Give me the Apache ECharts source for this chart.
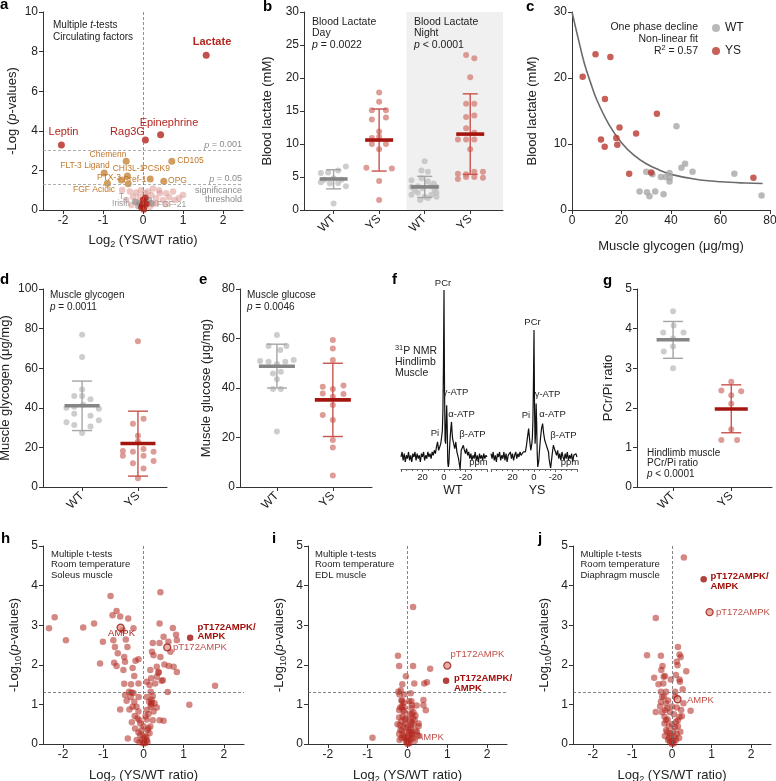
<!DOCTYPE html>
<html><head><meta charset="utf-8">
<script src="https://cdn.jsdelivr.net/npm/echarts@6/dist/echarts.min.js"></script>
<style>html,body{margin:0;padding:0;background:#fff}#c{width:776px;height:781px}</style>
</head><body><div id="c"></div><script>
// ================= DATA =================
// Panel a: volcano of circulating factors
const aRedNames = ['Lactate','Epinephrine','Rag3G','Leptin'];
const aRedX = [1.58, 0.44, 0.06, -2.04];
const aRedY = [7.81, 3.80, 3.54, 3.28];
const aOrangeNames = ['Chemerin','CD105','FLT-3 Ligand','CHI3L-1','PTX-3','FGF Acidic','Pref-1','PCSK9','OPG'];
const aOrangeX = [-0.42, 0.72, -0.97, -0.39, -0.54, -0.89, -0.37, 0.18, 0.52];
const aOrangeY = [2.46, 2.46, 1.87, 1.72, 1.52, 1.35, 1.33, 1.57, 1.45];
const aFaint = [[-0.52,1.01],[-0.33,0.93],[-0.17,0.88],[-0.25,0.67],[-0.08,0.67],[0.125,0.93],[0.25,1.09],[0.42,0.84],[0.58,0.84],[0.75,0.93],[1.0,0.76],[0.21,0.76],[0.33,0.59],[0.5,0.5],[0.79,0.5],[-0.42,0.5],[-0.17,0.42],[0.125,0.34],[0.25,0.3],[0.17,0.17],[0.33,0.34],[0.58,0.3],[-0.29,0.25],[0.4,1.0],[0.65,0.65],[-0.05,1.0],[0.05,0.85],[0.9,0.6]];
const aGray = [[-0.2,0.42],[-0.08,0.34],[0.21,0.34],[0.15,0.5],[-0.12,0.2],[0.05,0.22]];
const aDark = [[0.06,0.62],[0.0,0.5],[-0.04,0.13],[0.02,0.03],[0.08,0.3],[-0.02,0.25]];

// Panel b: blood lactate (groups WT day, YS day, WT night, YS night)
const bCats = ['WT','YS','WT','YS'];
const bWTdY = [5.6,5.7,6.0,6.6,4.6,4.8,4.6,4.2,4.0,4.1,3.6,1.0];
const bWTdDX = [-0.28,-0.12,0.1,0.27,-0.2,0.0,0.17,-0.28,-0.08,0.1,0.27,0.0];
const bYSdY = [17.8,16.4,15.1,15.1,13.7,14.0,11.9,10.9,11.1,10.0,10.0,9.2,6.4,6.3,4.4,1.5];
const bYSdDX = [0,0,-0.16,0.15,-0.16,0.15,0,-0.16,0,0.15,-0.16,0,-0.28,0.28,0,0];
const bWTnY = [7.4,6.0,5.8,4.5,4.8,4.3,3.5,3.6,3.6,3.5,2.3,2.6,2.0,2.3,2.6,1.5,1.8,2.0,3.0,3.3,3.0,4.0];
const bWTnDX = [0,-0.07,0.07,-0.29,-0.07,0.07,-0.29,-0.15,0.15,0.26,-0.29,-0.15,0,0.15,0.26,-0.1,0.07,0.26,-0.22,-0.04,0.22,0.2];
const bYSnY = [23.5,23.0,20.1,16.1,16.1,14.1,14.3,12.4,11.7,10.7,10.7,10.7,9.2,5.5,5.4,5.8,5.8,4.7,5.0,5.0,4.9];
const bYSnDX = [-0.09,0.09,0,-0.09,0.09,-0.09,0.09,-0.09,0.09,-0.27,-0.09,0.09,0,-0.27,-0.09,0.09,0.28,-0.27,-0.09,0.09,0.28];
const bMean = [4.7,10.6,3.5,11.5];
const bLow = [3.2,5.9,1.9,5.4];
const bHigh = [6.1,15.3,5.1,17.6];

// Panel c: lactate vs glycogen
const cYSx = [4.3,9.5,15.5,13.3,19.2,11.7,13.2,17.9,18.3,25.9,34.3,23.1,32.0,73.3];
const cYSy = [20.2,23.6,23.2,16.8,12.5,10.7,9.6,10.9,9.9,11.6,14.6,5.5,5.7,4.9];
const cWTx = [30.0,32.5,35.9,37.8,39.4,39.5,39.4,27.3,30.3,31.3,33.6,37.0,42.2,44.2,45.7,48.7,65.6,76.6];
const cWTy = [5.8,5.4,5.0,5.0,5.6,4.9,4.3,2.8,2.7,2.1,2.8,2.4,12.7,6.4,7.0,5.8,5.5,2.2];
const cFitX = [0,2.5,5,7.5,10,15,20,25,30,35,40,50,60,70,77];
const cFitY = [30,26.0,22.2,19.3,16.7,12.9,10.2,8.3,7.0,6.1,5.4,4.65,4.27,4.08,4.02];

// Panel d: muscle glycogen
const dCats = ['WT','YS'];
const dWTY = [76.9,65.7,49.2,46.0,46.0,44.3,40.0,40.5,41.5,39.5,37.0,36.0,33.7,32.7,31.3,30.5,27.3];
const dWTDX = [0,0,0,-0.14,0,0.15,-0.28,-0.14,0.02,0.3,-0.14,0.15,0.3,-0.28,-0.14,0.15,0];
const dYSY = [73.6,34.5,32.0,25.9,23.0,18.2,17.8,19.2,17.8,15.8,12.0,15.8,13.1,9.3,4.4];
const dYSDX = [0,0.1,-0.09,0,0,-0.27,-0.09,0.1,0.28,-0.27,-0.09,0.1,0.28,0.1,0];
const dMean = [41,22], dLow = [28.5,5.5], dHigh = [53.5,38.3];

// Panel e: muscle glucose
const eCats = ['WT','YS'];
const eWTY = [61.4,57.0,57.0,55.4,50.9,50.6,51.3,50.6,49.7,45.9,46.6,43.5,39.6,39.6,22.4];
const eWTDX = [0,-0.15,0.17,0.06,-0.3,-0.15,0.3,0.15,0,-0.07,0.07,0,-0.07,0.07,0];
const eYSY = [59.4,56.0,51.3,40.5,39.6,41.0,37.8,37.6,36.5,33.1,29.1,27.1,19.0,16.0,4.6];
const eYSDX = [0,0,0,-0.18,0,0.19,-0.18,0.19,0,0,-0.18,0,0,0,0];
const eMean = [48.8,35.2], eLow = [40.0,20.4], eHigh = [57.7,50.0];

// Panel f: 31P NMR spectra (ppm, intensity)
const fPpm = [40,39,38,37,36,35,34,33,32,31,30,29,28,27,26,25,24,23,22,21,20,19,18,17,16,15,14,13,12,11,10,9,8,7,6,5,4,3,2,
  1.5,1,0.5,0,-0.5,-1,-1.5,-2,-2.5,-3,-3.5,-4,-4.5,-5,-5.5,-6,-6.5,-7,-7.5,-8,
  -9,-10,-11,-12,-13,-13.5,-14,-14.5,-15,-15.5,-16,
  -17,-18,-19,-20,-21,-22,-23,-24,-25,-26,-27,-28,-29,-30,-31,-32,-33,-34,-35,-36,-37,-38,-39,-40];
const fWTint = [0,3,-2,2,-3,1,-1,3,-2,1,-3,2,0,3,-2,2,-1,1,-3,2,0,3,-2,1,-1,3,0,2,-1,3,1,4,2,6,9,4,6,8,13,
  16,28,55,100,40,10,8,20,31,18,-3,-6,-4,3,9,14,18,21,15,11,
  8,5,9,3,4,-1,-3,-5,-7.5,-2,4,
  3,7,4,2,5,1,3,-1,2,-2,1,-1,3,-2,1,-3,2,-1,1,-2,2,-1,1,0];
const fYSint = [2,-1,3,-2,1,-3,2,0,3,-2,1,-1,3,-2,2,-3,1,0,3,-1,2,-2,1,3,-1,2,0,3,1,2,3,4,3,7,12,17,10,4,8,
  12,22,45,76,30,8,14,32,20,2,-6,-5,-2,3,7,11,14,17,18,20,
  14,10,8,6,7,3,-1,-3,-5,-6.5,-7.5,
  2,7,5,3,1,4,-1,2,-2,3,0,-2,2,-1,3,-2,1,-1,2,-3,1,0,2,0];

// Panel g: PCr/Pi ratio
const gCats = ['WT','YS'];
const gWTY = [4.44,3.90,4.08,3.90,3.75,3.55,3.42,3.0];
const gWTDX = [0,-0.17,0.01,0.18,0,0,-0.16,0];
const gYSY = [2.66,2.44,2.32,2.42,2.10,1.46,1.19,1.19];
const gYSDX = [0,-0.17,0,0.17,0,0,-0.17,0.1];
const gMean = [3.72,1.97], gLow = [3.25,1.37], gHigh = [4.18,2.58];

// Panels h, i, j: phosphoproteomics volcanos
const hPts = [[-2.35,2.92],[-2.21,3.20],[-1.93,2.62],[-1.50,2.94],[-1.23,3.04],[-1.08,2.03],[-1.01,2.58],[-0.82,3.74],[-0.77,3.25],[-0.67,3.36],[-0.75,2.62],[-0.71,2.45],[-0.73,2.05],[-0.67,1.97],[-0.64,2.29],[-0.58,3.22],[-0.38,3.17],[-0.52,2.87],[-0.44,2.64],[-0.40,2.45],[-0.48,2.20],[-0.46,2.08],[-0.50,1.87],[-0.25,2.92],[-0.27,1.92],[-0.31,1.51],[-0.48,1.52],[-0.23,1.72],[-0.125,2.14],[-0.58,0.87],[-0.39,0.14],[-0.125,1.53],[-0.36,1.32],[-0.25,1.29],[-0.46,1.24],[-0.32,1.19],[-0.42,1.09],[-0.23,1.07],[-0.27,0.94],[-0.175,0.94],[-0.35,0.87],[-0.12,1.19],[-0.125,0.82],[-0.22,0.71],[-0.15,0.65],[-0.29,0.55],[-0.08,0.52],[-0.21,0.39],[-0.125,0.29],[-0.08,0.23],[-0.04,0.10],[-0.02,0.02],[0.02,0.04],[-0.17,0.10],
  [0.42,3.83],[0.40,3.04],[0.73,2.93],[0.50,2.71],[0.81,2.76],[0.83,2.62],[0.62,2.58],[0.40,2.55],[0.23,2.55],[0.67,2.33],[0.21,2.33],[0.42,2.20],[0.25,2.24],[0.52,2.01],[0.33,1.95],[0.63,1.97],[0.75,1.95],[0.83,1.82],[0.375,1.82],[0.17,1.87],[0.48,1.61],[0.19,1.66],[0.08,1.57],[0.15,1.49],[0.29,1.53],[0.33,1.70],[0.6,1.31],[0.18,1.32],[0.23,1.21],[0.08,1.19],[0.14,1.07],[0.275,1.03],[0.18,0.94],[0.33,0.92],[0.08,0.86],[0.25,0.82],[0.125,0.76],[0.23,0.60],[0.40,0.60],[0.5,0.59],[0.08,0.62],[0.17,0.44],[0.1,0.35],[0.15,0.27],[0.07,0.18],[0.08,0.10],[0.04,0.02],[1.78,1.47],[1.14,0.99],
  [0.375,1.8],[0.2,1.05],[0.19,1.0],[0.05,0.7],[0.0,0.45],[0.12,0.4],[-0.05,0.35],[0.03,0.15],[-0.1,0.6],[0.2,1.12],[-0.3,1.3],[-0.2,2.1],[0.45,1.6],[-0.1,0.05],[0.1,0.05],[0.0,0.2]];
const hDark = [[1.16,2.68]];
const hOpen = [[-0.57,2.94],[0.59,2.44]];
const iPts = [[0.14,3.46],[-0.24,2.23],[-0.21,1.97],[0.14,1.97],[0.57,1.90],[-0.04,1.71],[0.17,1.53],[0.42,1.53],[0.49,1.56],[-0.13,1.51],[-0.17,1.36],[-0.23,1.32],[-0.08,1.25],[0.08,1.28],[-0.14,1.09],[-0.1,1.04],[0.1,1.08],[-0.14,0.94],[0.11,0.98],[0.23,0.97],[0.40,1.11],[0.40,0.98],[0.46,0.85],[-0.21,0.86],[-0.1,0.82],[0.11,0.76],[-0.21,0.67],[-0.06,0.61],[0.18,0.62],[0.28,0.52],[-0.19,0.48],[0.09,0.48],[-0.14,0.35],[0.04,0.35],[0.24,0.31],[-0.21,0.25],[0.11,0.23],[-0.08,0.18],[0.02,0.14],[-0.02,0.06],[0.05,0.02],[-0.88,0.16],
  [-0.2,1.25],[-0.15,1.1],[-0.18,0.92],[-0.08,0.85],[-0.12,0.7],[-0.05,0.65],[0.05,0.6],[-0.15,0.58],[0.1,0.55],[0.15,0.5],[-0.1,0.45],[0.0,0.42],[0.08,0.4],[-0.18,0.35],[0.2,0.35],[-0.05,0.3],[0.05,0.28],[0.12,0.25],[-0.12,0.22],[0.02,0.2],[-0.06,0.15],[0.08,0.12],[0.0,0.1],[-0.03,0.05],[0.03,0.03],[0.0,0.0],[0.15,0.15],[0.25,0.22],[0.3,0.2],[-0.2,0.1],[0.18,0.08],[0.1,0.9],[0.15,0.8],[0.2,0.72],[0.28,0.45],[-0.25,0.5],[0.04,1.08],[-0.1,0.95],[0.05,0.75],[-0.05,0.5],[0.1,0.3],[-0.15,0.15],[0.13,0.65]];
const iDark = [[0.97,1.60]];
const iOpen = [[1.0,1.98]];
const jPts = [[0.30,4.71],[-0.41,3.18],[-0.63,2.24],[-0.28,2.23],[0.15,2.45],[0.19,2.26],[0.22,2.20],[0.12,2.08],[-0.24,1.97],[0.14,1.99],[-0.27,1.87],[0.36,1.84],[-0.45,1.67],[-0.21,1.70],[-0.18,1.72],[0.19,1.63],[0.20,1.57],[-0.34,1.51],[-0.22,1.53],[-0.03,1.63],[0.10,1.74],[-0.28,1.32],[-0.15,1.32],[0.08,1.32],[0.27,1.38],[-0.25,1.19],[-0.28,1.07],[-0.15,1.03],[-0.41,0.81],[-0.17,0.86],[0.29,1.03],[0.23,0.86],[0.47,0.84],[0.19,0.69],[-0.19,0.69],[-0.11,0.62],[0.1,0.56],[-0.19,0.52],[0.21,0.31],[-0.15,0.35],[-0.05,0.27],[0.06,0.18],[-0.1,0.10],[-0.01,0.04],[0.1,0.10],
  [-0.2,1.2],[-0.1,1.1],[0.0,0.95],[-0.12,0.9],[0.12,0.92],[-0.05,0.8],[0.05,0.75],[-0.15,0.6],[0.15,0.6],[0.0,0.5],[-0.08,0.45],[0.08,0.42],[0.15,0.45],[-0.12,0.3],[0.03,0.32],[0.12,0.25],[-0.03,0.2],[-0.08,0.15],[0.03,0.08],[0.0,0.0],[0.05,0.02],[-0.05,0.05],[0.18,0.15],[-0.18,0.2],[0.25,0.7],[-0.25,0.8],[0.08,1.2],[-0.3,0.95]];
const jDark = [[0.80,4.16]];
const jOpen = [[0.95,3.33],[0.14,1.13]];

const volTicks = [-2,-1,0,1,2];

// ================= STYLE / BUILD =================
const FONT = '"Liberation Sans", Arial, Helvetica, sans-serif';
const INK = '#222';
const DOT_GRAY = '#c0c0c0', DOT_RED = '#d4837c';
const BAR_GRAY = '#858585', BAR_RED = '#a5150f';
const ERR_GRAY = '#a5a5a5', ERR_RED = '#c8534c';
const VRED = '#b0261e';

function merge(a, b) {
  const o = Object.assign({}, a);
  for (const k in b) {
    const bv = b[k], av = a[k];
    if (bv && typeof bv === 'object' && !Array.isArray(bv) && av && typeof av === 'object' && !Array.isArray(av)) o[k] = merge(av, bv);
    else o[k] = bv;
  }
  return o;
}
function nameRich(sz) {
  return {
    s: {fontSize: sz * 0.7, fontFamily: FONT, color: INK, padding: [sz * 0.7, 0, 0, 0]},
    i: {fontSize: sz, fontFamily: FONT, color: INK, fontStyle: 'italic'},
    n: {fontSize: sz, fontFamily: FONT, color: INK}
  };
}
const AX = {
  type: 'value',
  axisLine: {show: true, onZero: false, lineStyle: {color: '#333', width: 1}},
  axisTick: {show: true, length: 4, lineStyle: {color: '#333'}},
  axisLabel: {color: INK, fontSize: 12, fontFamily: FONT, margin: 5},
  splitLine: {show: false},
  nameLocation: 'middle',
  nameTextStyle: {color: INK, fontSize: 13, fontFamily: FONT, rich: nameRich(13)}
};
function ax(gi, o) { return merge(merge(AX, {gridIndex: gi}), o); }
function catX(gi, min, max, cats) {
  const vals = cats.map((c, i) => i + 1);
  return ax(gi, {min, max,
    axisTick: {customValues: vals},
    axisLabel: {customValues: vals, rotate: 45, margin: 7, formatter: v => cats[Math.round(v) - 1] || ''}});
}
function volX(gi, nm) {
  return ax(gi, {min: -2.5, max: 2.5, axisTick: {customValues: volTicks}, axisLabel: {customValues: volTicks}, name: nm, nameGap: 22});
}
function nmrX(gi) {
  return ax(gi, {min: -40, max: 40, inverse: true, interval: 20,
    axisLine: {lineStyle: {color: '#666'}}, axisTick: {length: 3, lineStyle: {color: '#666'}},
    minorTick: {show: true, splitNumber: 4, length: 2, lineStyle: {color: '#666'}},
    axisLabel: {fontSize: 9.5, margin: 3, formatter: v => Math.abs(v) === 40 ? '' : String(v)}});
}
const G = [
  {left: 43, top: 12, width: 200, height: 198},   // a
  {left: 304, top: 12, width: 199, height: 198},  // b
  {left: 572, top: 12, width: 198, height: 198},  // c
  {left: 43, top: 289, width: 124, height: 198},  // d
  {left: 240, top: 289, width: 132, height: 198}, // e
  {left: 401, top: 290, width: 86, height: 179},  // f WT
  {left: 491, top: 290, width: 86, height: 179},  // f YS
  {left: 637, top: 289, width: 135, height: 198}, // g
  {left: 43, top: 546, width: 201, height: 198},  // h
  {left: 308, top: 546, width: 199, height: 198}, // i
  {left: 573, top: 546, width: 198, height: 198}  // j
].map(g => Object.assign({containLabel: false, outerBoundsMode: 'none'}, g));

const LOGX = 'Log{s|2} (YS/WT ratio)';
const LOG10Y = '-Log{s|10}({i|p}-values)';
const xAxes = [
  ax(0, {min: -2.5, max: 2.5, axisTick: {customValues: volTicks}, axisLabel: {customValues: volTicks}, name: LOGX, nameGap: 21}),
  catX(1, 0.35, 4.72, bCats),
  ax(2, {min: 0, max: 80, interval: 20, name: 'Muscle glycogen (μg/mg)', nameGap: 30}),
  catX(3, 0.30, 2.52, dCats),
  catX(4, 0.34, 2.70, eCats),
  nmrX(5), nmrX(6),
  catX(7, 0.38, 2.70, gCats),
  volX(8, LOGX), volX(9, LOGX), volX(10, LOGX)
];
const yAxes = [
  ax(0, {min: 0, max: 10, interval: 2, name: '-Log ({i|p}-values)', nameGap: 24}),
  ax(1, {min: 0, max: 30, interval: 5, name: 'Blood lactate (mM)', nameGap: 30}),
  ax(2, {min: 0, max: 30, interval: 10, name: 'Blood lactate (mM)', nameGap: 33}),
  ax(3, {min: 0, max: 100, interval: 20, name: 'Muscle glycogen (μg/mg)', nameGap: 31}),
  ax(4, {min: 0, max: 80, interval: 20, name: 'Muscle glucose (μg/mg)', nameGap: 27}),
  ax(5, {min: -7.2, max: 100, show: false}),
  ax(6, {min: -7.2, max: 100, show: false}),
  ax(7, {min: 0, max: 5, interval: 1, name: 'PCr/Pi ratio', nameGap: 22}),
  ax(8, {min: 0, max: 5, interval: 1, name: LOG10Y, nameGap: 20}),
  ax(9, {min: 0, max: 5, interval: 1, name: LOG10Y, nameGap: 20}),
  ax(10, {min: 0, max: 5, interval: 1, name: LOG10Y, nameGap: 20})
];

function sc(gi, data, color, size, extra) {
  return merge({type: 'scatter', xAxisIndex: gi, yAxisIndex: gi, data, symbolSize: size, silent: true,
    itemStyle: {color: color}, z: 3}, extra || {});
}
function grp(center, dx, ys) { return ys.map((y, k) => [center + dx[k], y]); }
function meanSD(gi, means, lows, highs, barHalf, capHalf) {
  const barC = [BAR_GRAY, BAR_RED], errC = [ERR_GRAY, ERR_RED];
  return {type: 'custom', xAxisIndex: gi, yAxisIndex: gi, z: 5, silent: true, clip: false,
    data: means.map((m, k) => [k + 1, m, lows[k], highs[k]]),
    renderItem: (p, api) => {
      const c = p.dataIndex % 2, x = api.value(0);
      const pm = api.coord([x, api.value(1)]), pl = api.coord([x, api.value(2)]), ph = api.coord([x, api.value(3)]);
      const ec = errC[c], bc = barC[c];
      return {type: 'group', children: [
        {type: 'line', shape: {x1: pl[0], y1: pl[1], x2: ph[0], y2: ph[1]}, style: {stroke: ec, lineWidth: 1.4}},
        {type: 'line', shape: {x1: pl[0] - capHalf, y1: pl[1], x2: pl[0] + capHalf, y2: pl[1]}, style: {stroke: ec, lineWidth: 1.4}},
        {type: 'line', shape: {x1: ph[0] - capHalf, y1: ph[1], x2: ph[0] + capHalf, y2: ph[1]}, style: {stroke: ec, lineWidth: 1.4}},
        {type: 'line', shape: {x1: pm[0] - barHalf, y1: pm[1], x2: pm[0] + barHalf, y2: pm[1]}, style: {stroke: bc, lineWidth: 3.6}}
      ]};
    }};
}
function dashLines(vals, color) {
  return {silent: true, symbol: 'none', label: {show: false}, animation: false,
    lineStyle: {type: [3, 2], color: color, width: 0.8}, data: vals};
}
function volcano(gi, pts, dark, open) {
  return [
    sc(gi, pts, VRED, 6.5, {itemStyle: {opacity: 0.55}, markLine: dashLines([{yAxis: 1.3}, {xAxis: 0}], '#666')}),
    sc(gi, open, 'rgba(214,120,112,0.75)', 7, {itemStyle: {borderColor: '#9a1a12', borderWidth: 1.3}, z: 4}),
    sc(gi, dark, '#a0100b', 6.5, {z: 4})
  ];
}

const series = [
  // a
  sc(0, aFaint, '#d9908a', 6.5, {itemStyle: {opacity: 0.5}, markLine: dashLines([{yAxis: 3}, {yAxis: 1.3}], '#9a9a9a')}),
  sc(0, aGray, '#8a8a8a', 6.5, {itemStyle: {opacity: 0.6}, markLine: dashLines([{xAxis: 0}], '#777')}),
  sc(0, aDark, '#b01c12', 6.5, {itemStyle: {opacity: 0.8}}),
  sc(0, aOrangeX.map((x, k) => [x, aOrangeY[k]]), '#c6843a', 7, {z: 4}),
  sc(0, aRedX.map((x, k) => [x, aRedY[k]]), '#b3261e', 7, {z: 4}),
  // b
  {type: 'line', xAxisIndex: 1, yAxisIndex: 1, data: [[2.6, 0]], showSymbol: false, silent: true, z: 0,
    markArea: {silent: true, itemStyle: {color: '#f0f0f0'}, data: [[{xAxis: 2.6, yAxis: 0}, {xAxis: 4.72, yAxis: 30}]]}},
  sc(1, grp(1, bWTdDX, bWTdY), DOT_GRAY, 6),
  sc(1, grp(2, bYSdDX, bYSdY), DOT_RED, 6),
  sc(1, grp(3, bWTnDX, bWTnY), DOT_GRAY, 6),
  sc(1, grp(4, bYSnDX, bYSnY), DOT_RED, 6),
  meanSD(1, bMean, bLow, bHigh, 14, 7.5),
  // c
  {type: 'line', name: 'fit', xAxisIndex: 2, yAxisIndex: 2, data: cFitX.map((x, k) => [x, cFitY[k]]), smooth: 0.4,
    showSymbol: false, silent: true, lineStyle: {color: '#6b6b6b', width: 1.6}, z: 2},
  sc(2, cWTx.map((x, k) => [x, cWTy[k]]), '#a8a8a8', 6.5, {name: 'WT'}),
  sc(2, cYSx.map((x, k) => [x, cYSy[k]]), '#b8382e', 6.5, {name: 'YS'}),
  // d
  sc(3, grp(1, dWTDX, dWTY), DOT_GRAY, 6),
  sc(3, grp(2, dYSDX, dYSY), DOT_RED, 6),
  meanSD(3, dMean, dLow, dHigh, 17.5, 10),
  // e
  sc(4, grp(1, eWTDX, eWTY), DOT_GRAY, 6),
  sc(4, grp(2, eYSDX, eYSY), DOT_RED, 6),
  meanSD(4, eMean, eLow, eHigh, 18, 10),
  // f
  {type: 'line', xAxisIndex: 5, yAxisIndex: 5, data: fPpm.map((p, k) => [p, fWTint[k]]), showSymbol: false, silent: true, clip: false,
    lineStyle: {color: '#111', width: 1.2}},
  {type: 'line', xAxisIndex: 6, yAxisIndex: 6, data: fPpm.map((p, k) => [p, fYSint[k]]), showSymbol: false, silent: true, clip: false,
    lineStyle: {color: '#111', width: 1.2}},
  // g
  sc(7, grp(1, gWTDX, gWTY), DOT_GRAY, 6),
  sc(7, grp(2, gYSDX, gYSY), DOT_RED, 6),
  meanSD(7, gMean, gLow, gHigh, 16.5, 10),
  // h i j
  ...volcano(8, hPts, hDark, hOpen),
  ...volcano(9, iPts, iDark, iOpen),
  ...volcano(10, jPts, jDark, jOpen)
];

// ---------- text annotations ----------
function rt(sz) {
  return {
    i: {fontSize: sz, fontFamily: FONT, fontStyle: 'italic'},
    s: {fontSize: sz * 0.7, fontFamily: FONT, padding: [sz * 0.6, 0, 0, 0]},
    u: {fontSize: sz * 0.7, fontFamily: FONT, padding: [0, 0, sz * 0.6, 0]},
    b: {fontSize: sz, fontFamily: FONT, fontWeight: 'bold'}
  };
}
function T(x, y, text, o) {
  o = o || {};
  const sz = o.size || 10;
  const fill = o.fill || INK;
  const rich = rt(sz);
  for (const k in rich) rich[k].fill = fill;
  return {type: 'text', x: x, y: y, silent: true, z: 100,
    style: {text: text, fill: fill, fontSize: sz, fontFamily: FONT, fontWeight: o.bold ? 'bold' : 'normal',
      textAlign: o.align || 'left', align: o.align || 'left', textVerticalAlign: 'middle', verticalAlign: 'middle', rich: rich}};
}
const PL = {size: 15, bold: true, fill: '#000'};
const OR = {size: 8.5, fill: '#c0772a', align: 'center'};
const RD = {size: 11, fill: '#b3261e', align: 'center'};
const GR = {size: 8.5, fill: '#9a9a9a', align: 'center'};
const TH = {size: 9, fill: '#8a8a8a', align: 'right'};
const texts = [
  // panel letters
  T(0, 5, 'a', PL), T(263, 7, 'b', PL), T(526, 7, 'c', PL), T(0, 280, 'd', PL), T(199, 280, 'e', PL),
  T(392, 280, 'f', PL), T(603, 281, 'g', PL), T(1, 539, 'h', PL), T(272, 539, 'i', PL), T(538, 539, 'j', PL),
  // a
  T(53, 25, 'Multiple {i|t}-tests'), T(53, 37, 'Circulating factors'),
  T(212, 42, 'Lactate', Object.assign({}, RD, {bold: true})),
  T(169, 123, 'Epinephrine', RD), T(127.5, 132, 'Rag3G', RD), T(63.5, 132, 'Leptin', RD),
  T(108, 155, 'Chemerin', OR), T(190.5, 161, 'CD105', OR), T(85, 166, 'FLT-3 Ligand', OR),
  T(128.5, 169, 'CHI3L-1', OR), T(156, 169, 'PCSK9', OR), T(109, 178, 'PTX-3', OR),
  T(135, 180, 'Pref-1', OR), T(177.5, 181, 'OPG', OR), T(94, 190, 'FGF Acidic', OR),
  T(121, 204, 'Irisin', GR), T(123, 197, 'T{s|4}', GR), T(171.5, 205, 'FGF-21', GR),
  T(242, 145, '{i|p} = 0.001', TH), T(242, 179, '{i|p} = 0.05', TH), T(242, 191, 'significance', TH), T(242, 200, 'threshold', TH),
  // b
  T(312, 22, 'Blood Lactate', {size: 10.5}), T(312, 33, 'Day', {size: 10.5}), T(312, 45, '{i|p} = 0.0022', {size: 10.5}),
  T(414, 22, 'Blood Lactate', {size: 10.5}), T(414, 33, 'Night', {size: 10.5}), T(414, 45, '{i|p} < 0.0001', {size: 10.5}),
  // c
  T(698, 27, 'One phase decline', {size: 10.5, align: 'right'}), T(698, 39, 'Non-linear fit', {size: 10.5, align: 'right'}),
  T(698, 51, 'R{u|2} = 0.57', {size: 10.5, align: 'right'}),
  // d, e
  T(50, 295, 'Muscle glycogen', {size: 10}), T(50, 307, '{i|p} = 0.0011', {size: 10}),
  T(247, 295, 'Muscle glucose', {size: 10}), T(247, 307, '{i|p} = 0.0046', {size: 10}),
  // f
  T(395, 351, '{u|31}P NMR', {size: 10.5}), T(395, 362, 'Hindlimb', {size: 10.5}), T(395, 373, 'Muscle', {size: 10.5}),
  T(443, 283, 'PCr', {size: 9.5, align: 'center'}), T(455.5, 392, 'γ-ATP', {size: 9.5, align: 'center'}),
  T(461.5, 414, 'α-ATP', {size: 9.5, align: 'center'}), T(435, 433, 'Pi', {size: 9.5, align: 'center'}),
  T(472.5, 434, 'β-ATP', {size: 9.5, align: 'center'}), T(478.5, 462, 'ppm', {size: 9.5, align: 'center'}),
  T(453, 491, 'WT', {size: 12.5, align: 'center'}),
  T(532.5, 322, 'PCr', {size: 9.5, align: 'center'}), T(547.5, 394, 'γ-ATP', {size: 9.5, align: 'center'}),
  T(552.5, 414, 'α-ATP', {size: 9.5, align: 'center'}), T(526, 415, 'Pi', {size: 9.5, align: 'center'}),
  T(563.5, 435, 'β-ATP', {size: 9.5, align: 'center'}), T(570, 462, 'ppm', {size: 9.5, align: 'center'}),
  T(537, 491, 'YS', {size: 12.5, align: 'center'}),
  // g
  T(647, 453, 'Hindlimb muscle', {size: 10}), T(647, 463.5, 'PCr/Pi ratio', {size: 10}), T(647, 474, '{i|p} < 0.0001', {size: 10}),
  // h
  T(51, 554, 'Multiple t-tests', {size: 9.5}), T(51, 564.5, 'Room temperature', {size: 9.5}), T(51, 575, 'Soleus muscle', {size: 9.5}),
  T(121.5, 633, 'AMPK', {size: 9.5, fill: '#b3261e', align: 'center'}),
  T(197.5, 627, 'pT172AMPK/', {size: 9.5, fill: '#a0100b', bold: true}), T(197.5, 636.5, 'AMPK', {size: 9.5, fill: '#a0100b', bold: true}),
  T(173, 647, 'pT172AMPK', {size: 9.5, fill: '#c0504a'}),
  // i
  T(315, 554, 'Multiple t-tests', {size: 9.5}), T(315, 564.5, 'Room temperature', {size: 9.5}), T(315, 575, 'EDL muscle', {size: 9.5}),
  T(450.5, 654, 'pT172AMPK', {size: 9.5, fill: '#c0504a'}),
  T(454, 678, 'pT172AMPK/', {size: 9.5, fill: '#a0100b', bold: true}), T(454, 688, 'AMPK', {size: 9.5, fill: '#a0100b', bold: true}),
  T(417, 737, 'AMPK', {size: 9.5, fill: '#c0504a'}),
  // j
  T(580.5, 554, 'Multiple t-tests', {size: 9.5}), T(580.5, 564.5, 'Room temperature', {size: 9.5}), T(580.5, 575, 'Diaphragm muscle', {size: 9.5}),
  T(710.5, 576, 'pT172AMPK/', {size: 9.5, fill: '#a0100b', bold: true}), T(710.5, 586, 'AMPK', {size: 9.5, fill: '#a0100b', bold: true}),
  T(716, 612, 'pT172AMPK', {size: 9.5, fill: '#c0504a'}),
  T(687, 700, 'AMPK', {size: 9.5, fill: '#c0504a'})
];

const option = {
  animation: false,
  backgroundColor: '#fff',
  textStyle: {fontFamily: FONT},
  grid: G,
  xAxis: xAxes,
  yAxis: yAxes,
  legend: {data: [{name: 'WT'}, {name: 'YS'}], orient: 'vertical', left: 712, top: 22, itemWidth: 8, itemHeight: 8, itemGap: 11,
    icon: 'circle', selectedMode: false, textStyle: {fontSize: 12, color: INK, fontFamily: FONT}, padding: 0},
  series: series,
  graphic: {elements: texts}
};
const chart = echarts.init(document.getElementById('c'), null, {renderer: 'canvas'});
chart.setOption(option);
</script></body></html>
